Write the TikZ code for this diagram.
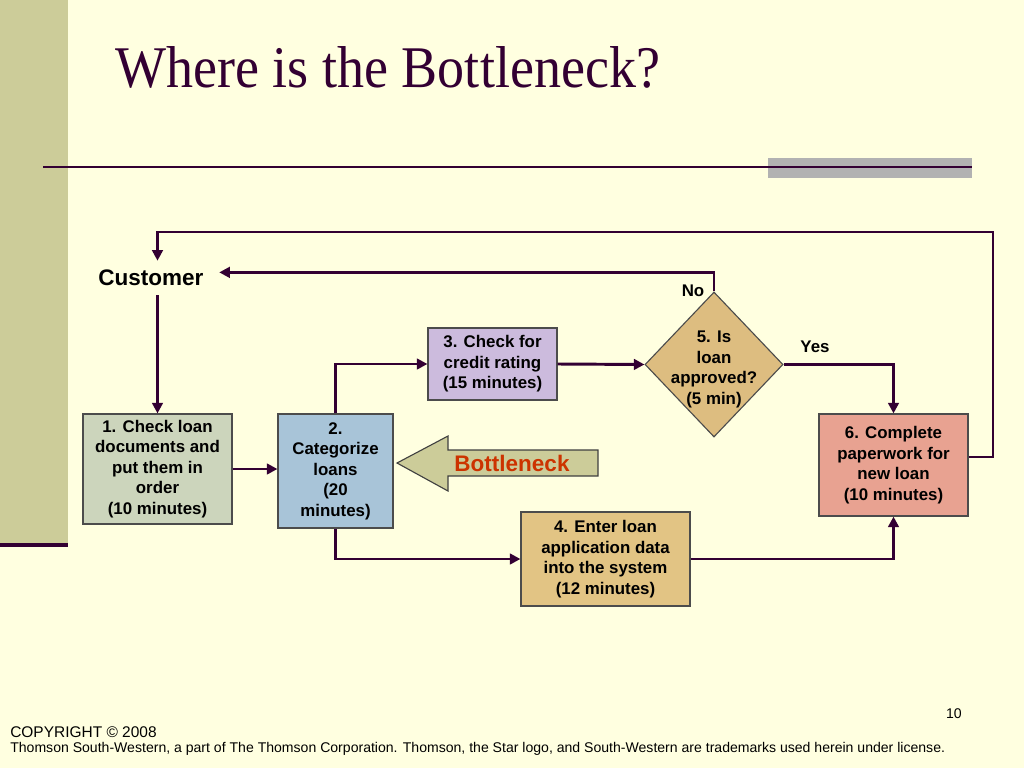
\documentclass[tikz,border=0pt]{standalone}
\usepackage{fontspec}
\setmainfont{Liberation Sans}
\newfontfamily\titlefont{Liberation Serif}
\usetikzlibrary{arrows.meta,positioning,shapes.geometric,calc}
\definecolor{slidebg}{HTML}{FFFFE0}
\definecolor{stripe}{HTML}{CCCC99}
\definecolor{plum}{HTML}{330033}
\definecolor{checkgreen}{HTML}{CCD5BC}
\definecolor{catblue}{HTML}{A8C4D8}
\definecolor{creditlilac}{HTML}{CCBBDD}
\definecolor{entertan}{HTML}{E2C484}
\definecolor{decidetan}{HTML}{DDBD80}
\definecolor{paperpink}{HTML}{E8A291}
\definecolor{bottlered}{HTML}{CC3300}

\begin{document}
\begin{tikzpicture}[x=0.025cm,y=-0.025cm,
    stepbox/.style={draw=black!70,line width=0.8pt,align=center,inner sep=0pt,font=\fontsize{12}{14.6}\selectfont\bfseries},
    decision/.style={diamond,draw=black!70,line width=0.8pt,fill=decidetan,inner sep=0pt,minimum width=3.45cm,minimum height=3.625cm},
    flow/.style={draw=plum,line width=2.1pt,-{Triangle[length=7.5pt,width=7.5pt]}},
    tag/.style={font=\fontsize{12}{14.6}\selectfont\bfseries}
  ]
    % Slide background
    \fill[slidebg] (0,0) rectangle (1024,768);
    \useasboundingbox (0,0) rectangle (1024,768);
    \fill[stripe] (0,0) rectangle (68,545);
    \draw[plum,line width=3.5pt] (0,545) -- (68,545);
    \fill[black!30] (768,158) rectangle (972,178);
    \draw[plum,line width=2pt] (43,167) -- (972,167);
    \node[anchor=base west,text=plum,inner sep=0pt,font=\titlefont\fontsize{42}{48}\selectfont] (title) at (115,88) {\scalebox{0.915}[1]{Where is the Bottleneck?}};

    % Process steps
    \node[font=\fontsize{16}{19}\selectfont\bfseries,minimum height=0.85cm,inner xsep=11pt] (cust) at (151,278) {Customer};
    \node[stepbox,fill=checkgreen,minimum width=3.725cm,minimum height=2.75cm] (check) at (157.5,469) {1. Check loan\\documents and\\put them in\\order\\(10 minutes)};
    \node[stepbox,fill=catblue,minimum width=2.875cm,minimum height=2.85cm] (cat) at (335.5,471) {2.\\Categorize\\loans\\(20\\minutes)};
    \node[stepbox,fill=creditlilac,minimum width=3.225cm,minimum height=1.8cm] (credit) at (492.5,364) {3. Check for\\credit rating\\(15 minutes)};
    \node[stepbox,fill=entertan,minimum width=4.225cm,minimum height=2.35cm] (enter) at (605.5,559) {4. Enter loan\\application data\\into the system\\(12 minutes)};
    \node[decision] (approve) at (714,364.5) {};
    \node[tag,align=center] (approvetext) at ($(approve.center)+(0,5)$) {5. Is\\loan\\approved?\\(5 min)};
    \node[stepbox,fill=paperpink,minimum width=3.725cm,minimum height=2.55cm] (paper) at (893.5,465) {6. Complete\\paperwork for\\new loan\\(10 minutes)};

    % Branch labels
    \node[tag] (no) at (693,291) {No};
    \node[tag] (yes) at (815,347) {Yes};

    % Bottleneck marker
    \draw[fill=stripe,draw=black!75,line width=0.8pt] (397,463) -- (448,436) -- (448,450) -- (598,450)
      -- (598,476) -- (448,476) -- (448,491) -- cycle;
    \node[text=bottlered,font=\fontsize{16}{19}\selectfont\bfseries] (bneck) at (512,463) {Bottleneck};

    % Flow
    \draw[flow] (check.north |- cust.south) -- (check.north);
    \draw[flow] (check.east) -- (cat.west |- check.east);
    \draw[flow] (cat.north) |- (credit.west);
    \draw[flow] (credit.east) -- (approve.west);
    \draw[flow] (approve.east) -| (paper.north);
    \draw[flow] (cat.south) |- (enter.west);
    \draw[flow] (enter.east) -| (paper.south);
    \draw[flow] (approve.north) |- ([yshift=4pt]cust.east);
    \draw[flow] ($(paper.east)+(0,-8)$) -| (993,232) -| (check.north |- cust.north);

    % Footer
    \node[anchor=base east,inner sep=0pt,font=\fontsize{10}{12}\selectfont] (pageno) at (962,718) {10};
    \node[anchor=base west,inner sep=0pt,font=\fontsize{11}{13}\selectfont] (copy) at (10,737) {COPYRIGHT © 2008};
    \node[anchor=base west,inner sep=0pt,font=\fontsize{10}{12}\selectfont] (legal) at (10,752) {Thomson South-Western, a part of The Thomson Corporation. Thomson, the Star logo, and South-Western are trademarks used herein under license.};
  \end{tikzpicture}
\end{document}
